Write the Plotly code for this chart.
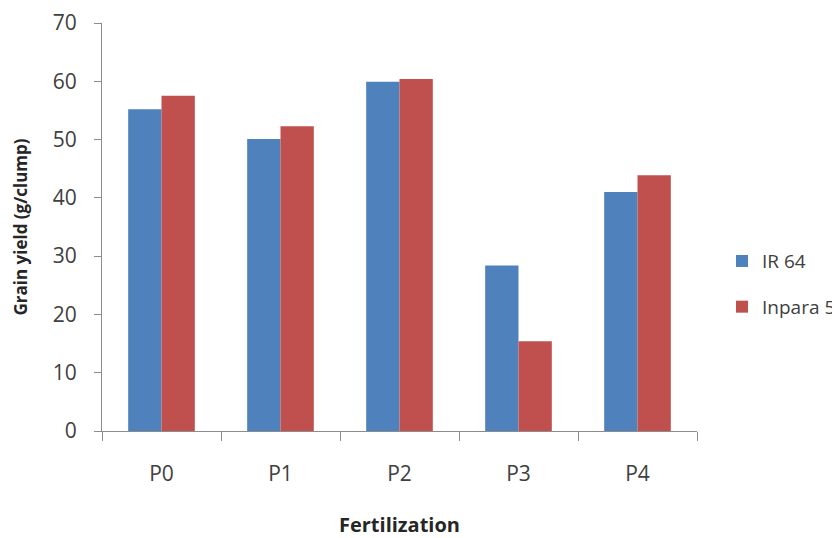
import plotly.graph_objects as go

categories = ["P0", "P1", "P2", "P3", "P4"]
ir64 = [55.2, 50.1, 59.9, 28.4, 41.0]
inpara5 = [57.5, 52.3, 60.4, 15.4, 43.9]
y_ticks = [0, 10, 20, 30, 40, 50, 60, 70]

FONT = "Open Sans"
TXT = "#404040"
AX = "#8c8c8c"

fig = go.Figure()
fig.add_trace(go.Bar(x=categories, y=ir64, name="IR 64", marker_color="#4F81BD",
                     legendgroup="a", marker_line_width=0))
fig.add_trace(go.Bar(x=categories, y=inpara5, name="Inpara 5", marker_color="#C0504D",
                     legendgroup="b", marker_line_width=0))

# page body has an 8px margin, so the figure is sized/offset to compensate
fig.update_layout(
    width=832, height=530,
    margin=dict(l=94, r=143, t=15, b=107, autoexpand=False),
    paper_bgcolor="white", plot_bgcolor="white",
    barmode="group", bargap=0.44, bargroupgap=0,
    font=dict(family=FONT, color=TXT, size=21),
    legend=dict(x=1.042, y=0.36, xanchor="left", yanchor="middle",
                traceorder="grouped", tracegroupgap=18,
                font=dict(size=19, color=TXT), itemwidth=30, borderwidth=0),
    showlegend=True,
)
fig.update_xaxes(
    automargin=False,
    showline=True, linecolor=AX, linewidth=1,
    ticks="outside", tickson="boundaries", ticklen=9, tickcolor=AX,
    ticklabelstandoff=24,
    title=dict(text="<b>Fertilization</b>", font=dict(size=20, color="#262626"), standoff=31),
    showgrid=False,
)
fig.update_yaxes(
    automargin=False,
    range=[0, 70], tickvals=y_ticks, showline=True, linecolor=AX, linewidth=1,
    ticks="outside", ticklen=7, tickcolor=AX, ticklabelstandoff=13,
    showgrid=False, zeroline=False,
    title=dict(text="<b>Grain yield (g/clump)</b>", font=dict(size=17, color="#262626"), standoff=20),
)

fig.write_html("out.html")
